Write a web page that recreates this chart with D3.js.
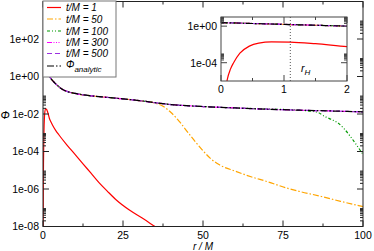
<!DOCTYPE html>
<html>
<head>
<meta charset="utf-8">
<script src="https://cdn.jsdelivr.net/npm/d3@7"></script>
<style>
  body { margin: 0; background: #fff; }
  svg { display: block; font-family: "Liberation Sans", Arial, sans-serif; }
</style>
</head>
<body>
<svg id="chart" width="374" height="251"></svg>
<script>
// values
var rAnalytic = [0, 0.25, 0.5, 0.75, 1, 1.25, 1.5, 1.75, 2, 3, 4, 5, 6, 8, 10, 12.5, 15, 20, 25, 30, 35, 40, 50, 60, 70, 80, 90, 100];
var phiAnalytic = [2.4, 2.2, 1.95, 1.75, 1.55, 1.4, 1.25, 1.12, 1.0, 0.6, 0.4, 0.28, 0.21, 0.15, 0.125, 0.105, 0.093, 0.077, 0.064, 0.052, 0.04, 0.032, 0.025, 0.021, 0.018, 0.016, 0.0145, 0.013];

var rT1 = [0, 0.05, 0.1, 0.15, 0.2, 0.3, 0.45, 0.6, 0.8, 1.1, 1.5, 2, 2.5, 3, 4, 5, 7.5, 10, 12.5, 15, 17.5, 20, 23, 27, 31, 35, 37];
var phiT1 = [1e-10, 1e-8, 1.5e-6, 2e-5, 1e-4, 1.1e-3, 6.5e-3, 0.014, 0.019, 0.018, 0.012, 0.0058, 0.0037, 0.0025, 1.3e-3, 7.6e-4, 2.2e-4, 7e-5, 2.2e-5, 7e-6, 2.2e-6, 8e-7, 2.5e-7, 7.5e-8, 2.8e-8, 1e-8, 6e-9];

var rT50 = [0, 0.5, 1, 1.5, 2, 3, 4, 6, 8, 10, 15, 20, 25, 30, 35, 37.5, 40, 42.5, 45, 47.5, 50, 52.5, 55, 60, 65, 70, 76, 80, 87, 93, 100];
var phiT50 = [2.4, 1.95, 1.55, 1.25, 1.0, 0.6, 0.4, 0.21, 0.15, 0.125, 0.093, 0.077, 0.064, 0.052, 0.038, 0.026, 0.012, 0.0042, 0.0012, 3.5e-4, 1.1e-4, 4e-5, 2e-5, 9e-6, 4.5e-6, 2.5e-6, 1.15e-6, 7.5e-7, 4e-7, 2.2e-7, 1.15e-7];

var rT100 = [0, 0.5, 1, 1.5, 2, 3, 4, 6, 8, 10, 15, 20, 30, 40, 50, 60, 70, 80, 84, 86, 88, 90, 92, 94, 96, 98, 100];
var phiT100 = [2.4, 1.95, 1.55, 1.25, 1.0, 0.6, 0.4, 0.21, 0.15, 0.125, 0.093, 0.077, 0.052, 0.032, 0.025, 0.021, 0.0185, 0.016, 0.014, 0.012, 0.0075, 0.0052, 0.0035, 0.0017, 6.5e-4, 2.2e-4, 7e-5];

var rT300 = rAnalytic, phiT300 = phiAnalytic;
var rT500 = rAnalytic, phiT500 = phiAnalytic;

var seriesNames = ["t/M = 1", "t/M = 50", "t/M = 100", "t/M = 300", "t/M = 500", "analytic"];
var seriesColors = ["#ff0000", "#ffa500", "#009a00", "#ff00ff", "#9c30e0", "#000000"];
var seriesDash = [null, "6,2,1.5,2", "3,2,1,2,1,2", "5,1.5,1,1.5,1,1.5,1,1.5", "5,3", "7,2,1.5,2"];
var seriesR = [rT1, rT50, rT100, rT300, rT500, rAnalytic];
var seriesPhi = [phiT1, phiT50, phiT100, phiT300, phiT500, phiAnalytic];

var xTicks = [0, 25, 50, 75, 100];
var yTickExp = [2, 0, -2, -4, -6, -8];
var insetXTicks = [0, 1, 2];
var insetYTickExp = [0, -4];
var rH = 1.1;

var series = seriesNames.map(function(n, i) {
  return { name: n, color: seriesColors[i], dash: seriesDash[i],
    pts: seriesR[i].map(function(r, j) { return [r, seriesPhi[i][j]]; }) };
});

var svg = d3.select("#chart");

function expLabel(e) {
  return "1e" + (e < 0 ? "-" : "+") + d3.format("02d")(Math.abs(e));
}

// draws a frame with inward ticks on all four sides
function drawFrame(g, x, y, xMajor, xMinor, yMajorExp, yMinorVals, stroke) {
  var x0 = x.range()[0], x1 = x.range()[1], y0 = y.range()[0], y1 = y.range()[1];
  g.append("rect").attr("x", x0).attr("y", y1).attr("width", x1 - x0).attr("height", y0 - y1)
    .attr("fill", "none").attr("stroke", stroke).attr("stroke-width", 1);
  var tk = g.append("g").attr("stroke", stroke).attr("stroke-width", 1);
  function vt(v, len) {
    tk.append("line").attr("x1", x(v)).attr("x2", x(v)).attr("y1", y0).attr("y2", y0 - len);
    tk.append("line").attr("x1", x(v)).attr("x2", x(v)).attr("y1", y1).attr("y2", y1 + len);
  }
  function ht(v, len) {
    tk.append("line").attr("y1", y(v)).attr("y2", y(v)).attr("x1", x0).attr("x2", x0 + len);
    tk.append("line").attr("y1", y(v)).attr("y2", y(v)).attr("x1", x1).attr("x2", x1 - len);
  }
  xMajor.forEach(function(v) { vt(v, 6); });
  xMinor.forEach(function(v) { vt(v, 3); });
  yMajorExp.forEach(function(e) { ht(Math.pow(10, e), 6); });
  yMinorVals.forEach(function(v) { ht(v, 3); });
}

function minorLog(exps) {
  var out = [];
  exps.forEach(function(e) { for (var k = 2; k <= 9; k++) out.push(k * Math.pow(10, e)); });
  return out;
}

// ---------- main plot ----------
var x = d3.scaleLinear().domain([0, 100]).range([43, 363]);
var y = d3.scaleLog().domain([1e-8, 1e4]).range([226.5, 1.5]);

svg.append("clipPath").attr("id", "clipMain").append("rect")
  .attr("x", 43).attr("y", 1.5).attr("width", 320).attr("height", 225);

var line = d3.line().curve(d3.curveMonotoneX)
  .x(function(d) { return x(d[0]); }).y(function(d) { return y(Math.max(d[1], 1e-12)); });

var plot = svg.append("g").attr("clip-path", "url(#clipMain)");
series.forEach(function(s) {
  plot.append("path").datum(s.pts).attr("d", line)
    .attr("fill", "none").attr("stroke", s.color).attr("stroke-width", 1.2)
    .attr("stroke-dasharray", s.dash);
});

drawFrame(svg.append("g"), x, y, xTicks, [12.5, 37.5, 62.5, 87.5], yTickExp.concat([4]), minorLog([2, 0, -2, -4, -6, -8]), "#222");

svg.append("g").selectAll("text").data(xTicks).enter().append("text")
  .attr("x", function(d) { return x(d); }).attr("y", 239)
  .attr("text-anchor", "middle").attr("font-size", 10.5).text(function(d) { return d; });
svg.append("g").selectAll("text").data(yTickExp).enter().append("text")
  .attr("x", 39).attr("y", function(d) { return y(Math.pow(10, d)) + 3.8; })
  .attr("text-anchor", "end").attr("font-size", 10.5).text(expLabel);

svg.append("text").attr("x", 203).attr("y", 250).attr("text-anchor", "middle")
  .attr("font-size", 10).attr("font-style", "italic").text("r / M");
svg.append("text").attr("x", 5).attr("y", 119).attr("text-anchor", "middle")
  .attr("font-size", 11).attr("font-style", "italic").text("\u03A6");

// ---------- legend ----------
var lg = svg.append("g");
lg.append("rect").attr("x", 43).attr("y", 1).attr("width", 73).attr("height", 76)
  .attr("fill", "#fff").attr("stroke", "#777").attr("stroke-width", 1);
var rowY = [7.5, 19, 31, 42.5, 53.5, 66];
series.forEach(function(s, i) {
  lg.append("line").attr("x1", 47).attr("x2", 61).attr("y1", rowY[i]).attr("y2", rowY[i])
    .attr("stroke", s.color).attr("stroke-width", 1.2).attr("stroke-dasharray", s.dash);
  if (i < 5) {
    lg.append("text").attr("x", 66).attr("y", rowY[i] + 3.8).attr("font-size", 10)
      .attr("font-style", "italic").text(s.name);
  } else {
    var t = lg.append("text").attr("x", 66).attr("y", 68).attr("font-size", 10).attr("font-style", "italic");
    t.append("tspan").text("\u03A6");
    t.append("tspan").attr("dy", 4).attr("font-size", 8).text(s.name);
  }
});

// ---------- inset ----------
var xi = d3.scaleLinear().domain([0, 2]).range([221, 347]);
var yi = d3.scaleLog().domain([1e-6, 1e1]).range([81, 17]);
var ins = svg.append("g");
ins.append("rect").attr("x", 221).attr("y", 17).attr("width", 126).attr("height", 64).attr("fill", "#fff");
svg.append("clipPath").attr("id", "clipInset").append("rect")
  .attr("x", 221).attr("y", 17).attr("width", 126).attr("height", 64);
var lineI = d3.line().curve(d3.curveMonotoneX)
  .x(function(d) { return xi(d[0]); }).y(function(d) { return yi(Math.max(d[1], 1e-12)); });
var ip = ins.append("g").attr("clip-path", "url(#clipInset)");
series.forEach(function(s) {
  ip.append("path").datum(s.pts.filter(function(d) { return d[0] <= 2.5; })).attr("d", lineI)
    .attr("fill", "none").attr("stroke", s.color).attr("stroke-width", 1.2)
    .attr("stroke-dasharray", s.dash);
});
ip.append("line").attr("x1", xi(rH)).attr("x2", xi(rH)).attr("y1", 17).attr("y2", 81)
  .attr("stroke", "#555").attr("stroke-width", 1).attr("stroke-dasharray", "1,2");

drawFrame(ins, xi, yi, insetXTicks, [0.5, 1.5], insetYTickExp, minorLog([0, -4]), "#444");

ins.selectAll("text.xt").data(insetXTicks).enter().append("text")
  .attr("x", function(d) { return xi(d); }).attr("y", 93)
  .attr("text-anchor", "middle").attr("font-size", 10.5).text(function(d) { return d; });
ins.selectAll("text.yt").data(insetYTickExp).enter().append("text")
  .attr("x", 217).attr("y", function(d) { return yi(Math.pow(10, d)) + 3.8; })
  .attr("text-anchor", "end").attr("font-size", 10.5).text(expLabel);

var rt = ins.append("text").attr("x", 301).attr("y", 72).attr("font-size", 10.5).attr("font-style", "italic");
rt.append("tspan").text("r");
rt.append("tspan").attr("dy", 3).attr("font-size", 8).text("H");
</script>
</body>
</html>
